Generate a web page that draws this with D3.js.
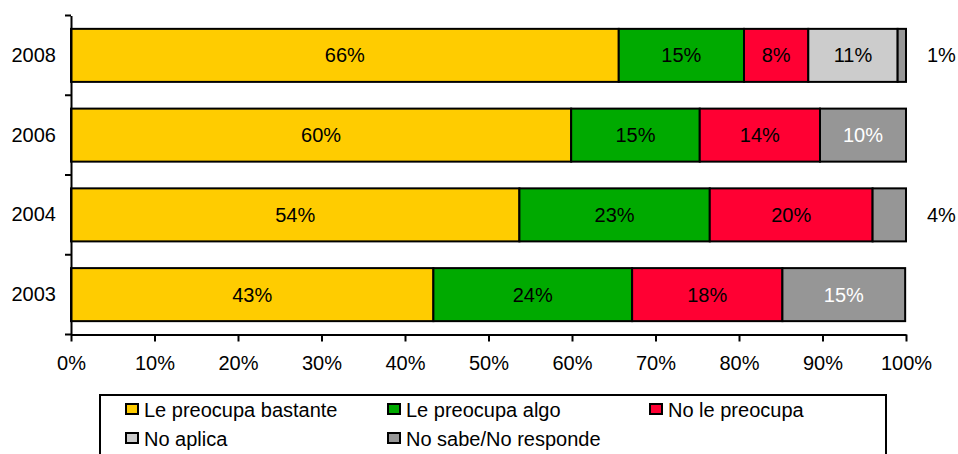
<!DOCTYPE html>
<html><head><meta charset="utf-8">
<script src="https://cdn.jsdelivr.net/npm/d3@7"></script>
<style>
body{margin:0;background:#fff;}
svg text{font-family:"Liberation Sans",Arial,sans-serif;}
</style></head>
<body><svg id="c" width="958" height="454"></svg>
<script>
const years = ["2008","2006","2004","2003"];
const seriesNames = ["Le preocupa bastante","Le preocupa algo","No le preocupa","No aplica","No sabe/No responde"];
const seriesColors = ["#FFCC00","#00AA00","#FF0033","#CCCCCC","#969696"];
const bastante = [65.6, 59.9, 53.7, 43.4];
const algo     = [15.0, 15.4, 22.8, 23.8];
const noPreoc  = [7.7, 14.4, 19.5, 18.0];
const noAplica = [10.7, 0, 0, 0];
const noSabe   = [1.0, 10.3, 4.0, 14.7];
const xTicks = [0,10,20,30,40,50,60,70,80,90,100];

const series = [bastante, algo, noPreoc, noAplica, noSabe];
const svg = d3.select("#c");
const FS = 20;
const x = d3.scaleLinear().domain([0,100]).range([71,906]);
const y = d3.scaleBand().domain(years).range([15.5,334.5]).paddingInner(0.335).paddingOuter(0.1675);

// bars
years.forEach((yr,i)=>{
  let acc = 0;
  series.forEach((s,k)=>{
    const v = s[i];
    if(v<=0) return;
    const x0 = x(acc), x1 = x(acc+v);
    svg.append("rect").attr("x",x0).attr("y",y(yr)).attr("width",x1-x0).attr("height",y.bandwidth())
      .attr("fill",seriesColors[k]).attr("stroke","#000").attr("stroke-width",2);
    const lbl = Math.round(v)+"%";
    const cy = y(yr)+y.bandwidth()/2;
    if(v<5){
      svg.append("text").attr("x",x(100)+21).attr("y",cy).attr("dy","0.35em")
        .attr("font-size",FS).attr("fill","#000").text(lbl);
    } else {
      svg.append("text").attr("x",(x0+x1)/2).attr("y",cy).attr("dy","0.35em")
        .attr("text-anchor","middle").attr("font-size",FS)
        .attr("fill",k===4?"#fff":"#000").text(lbl);
    }
    acc += v;
  });
});

// x axis
const xa = svg.append("g").attr("transform","translate(0,334.5)")
  .call(d3.axisBottom(x).tickValues(xTicks).tickFormat(d=>d+"%").tickSize(7).tickSizeOuter(0).tickPadding(14));
xa.selectAll("text").attr("font-size",FS).attr("fill","#000").attr("font-family","Liberation Sans, Arial, sans-serif");
xa.selectAll("line,path").attr("stroke","#000").attr("stroke-width",2);

// y axis
const ya = svg.append("g").attr("transform","translate(71,0)")
  .call(d3.axisLeft(y).tickSize(0).tickPadding(15).tickSizeOuter(0));
ya.selectAll("text").attr("font-size",FS).attr("fill","#000").attr("font-family","Liberation Sans, Arial, sans-serif");
ya.select("path").attr("stroke","#000").attr("stroke-width",2);
const bounds = years.map(d=>y(d)-y.step()*y.paddingInner()/2).concat([y.range()[1]]);
bounds.forEach(b=>{
  svg.append("line").attr("x1",65).attr("x2",71).attr("y1",b).attr("y2",b).attr("stroke","#000").attr("stroke-width",2);
});

// legend
svg.append("rect").attr("x",100).attr("y",395).attr("width",786).attr("height",80)
  .attr("fill","#fff").attr("stroke","#000").attr("stroke-width",2);
const legPos = [[126,404],[388,404],[650,404],[126,433],[388,433]];
seriesNames.forEach((n,k)=>{
  const [lx,ly] = legPos[k];
  svg.append("rect").attr("x",lx).attr("y",ly).attr("width",12).attr("height",10)
    .attr("fill",seriesColors[k]).attr("stroke","#000").attr("stroke-width",2);
  svg.append("text").attr("x",lx+18).attr("y",ly+6).attr("dy","0.35em").attr("font-size",FS).text(n);
});
</script></body></html>
